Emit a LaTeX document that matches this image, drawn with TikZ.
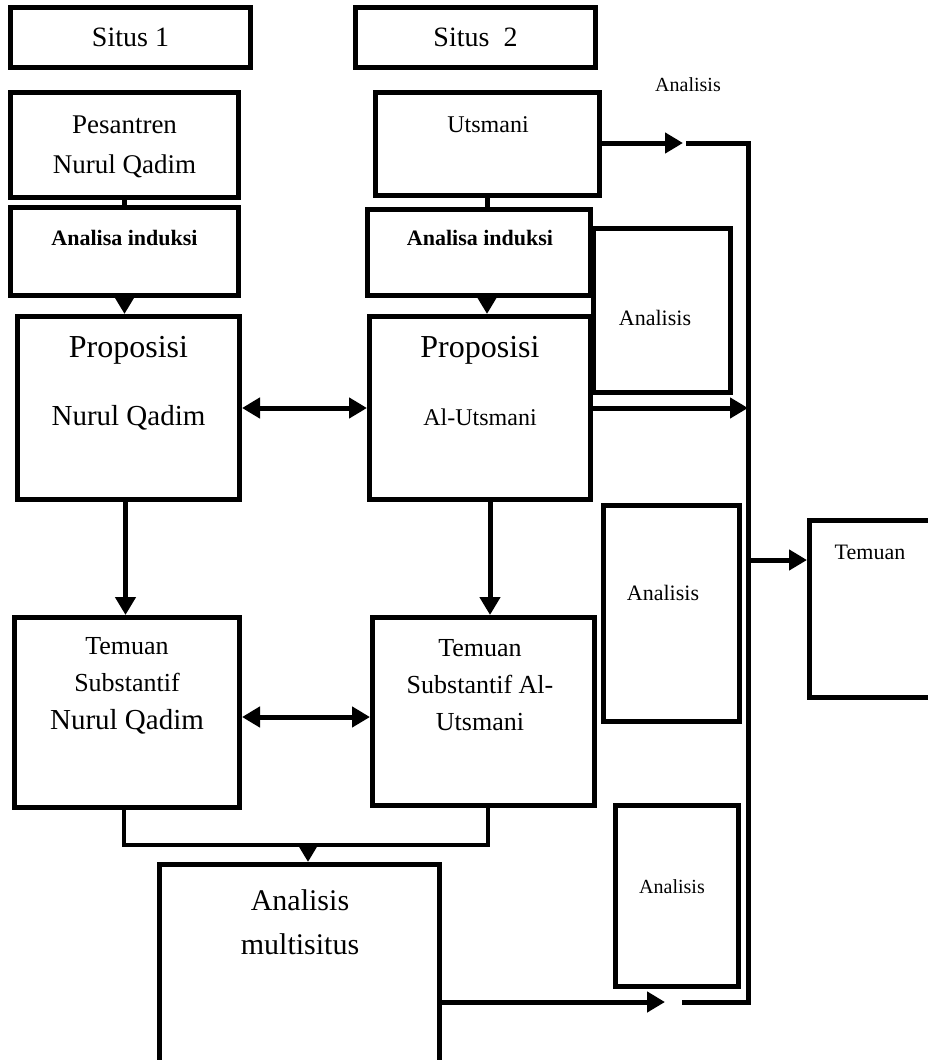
\documentclass[tikz,border=0pt]{standalone}
\usepackage{fontspec}
\setmainfont{Liberation Serif}
\usetikzlibrary{arrows.meta}
\begin{document}
\begin{tikzpicture}[x=1pt,y=-1pt,
  box/.style={draw=black, line width=5pt, inner sep=0pt, fill=white},
  conn/.style={draw=black, line width=5pt},
  brk/.style={draw=black, line width=4pt},
  arr/.style={conn, -{Triangle[length=18pt,width=20pt]}},
  darr/.style={conn, {Triangle[length=18pt,width=20pt]}-{Triangle[length=18pt,width=20pt]}},
  lbl/.style={inner sep=0pt, text=black, align=center}]
\useasboundingbox (0,0) rectangle (928,1060);
\clip (0,0) rectangle (928,1060);

% boxes
\node[box, minimum width=240pt, minimum height=60pt] (s1) at (130.5,37.5) {};
\node[box, minimum width=240pt, minimum height=60pt] (s2) at (475.5,37.5) {};
\node[box, minimum width=228pt, minimum height=105pt] (pes) at (124.5,145) {};
\node[box, minimum width=224pt, minimum height=103pt] (uts) at (487.5,144) {};
\node[box, minimum width=228pt, minimum height=88pt] (ind1) at (124.5,251.5) {};
\node[box, minimum width=223pt, minimum height=86pt] (ind2) at (479,252.5) {};
\node[box, minimum width=137pt, minimum height=164pt] (an1) at (662,310.5) {};
\node[box, minimum width=222pt, minimum height=183pt] (prop1) at (128.5,408) {};
\node[box, minimum width=221pt, minimum height=183pt] (prop2) at (480,408) {};
\node[box, minimum width=128pt, minimum height=177pt] (tem) at (873.5,609) {};
\node[box, minimum width=136pt, minimum height=216pt] (an2) at (671.5,613.5) {};
\node[box, minimum width=225pt, minimum height=190pt] (tem1) at (127,712.5) {};
\node[box, minimum width=222pt, minimum height=188pt] (tem2) at (483.5,711.5) {};
\node[box, minimum width=123pt, minimum height=181pt] (an3) at (677,896) {};
\node[box, minimum width=280pt, minimum height=203pt] (multi) at (299.5,966) {};

% texts
\node[lbl, font=\fontsize{28}{32}\selectfont] (t1) at (s1) {Situs 1};
\node[lbl, font=\fontsize{28}{32}\selectfont] (t2) at (s2) {Situs\ \ 2};
\node[lbl, font=\fontsize{27}{40}\selectfont] (t3) at (124.5,147) {Pesantren\\Nurul Qadim};
\node[lbl, font=\fontsize{24}{28}\selectfont] (t4) at (488,125) {Utsmani};
\node[lbl, font=\fontsize{22}{26}\selectfont\bfseries] (t5) at (124.5,238) {Analisa induksi};
\node[lbl, font=\fontsize{22}{26}\selectfont\bfseries] (t6) at (480,238) {Analisa induksi};
\node[lbl, font=\fontsize{32}{36}\selectfont] (t7) at (128.5,350) {Proposisi};
\node[lbl, font=\fontsize{29}{32}\selectfont] (t8) at (128.5,418) {Nurul Qadim};
\node[lbl, font=\fontsize{32}{36}\selectfont] (t9) at (480,350) {Proposisi};
\node[lbl, font=\fontsize{24}{28}\selectfont] (t10) at (480,417) {Al-Utsmani};
\node[lbl, font=\fontsize{22}{26}\selectfont] (t11) at (655,318) {Analisis};
\node[lbl, font=\fontsize{20}{24}\selectfont] (t12) at (688,85) {Analisis};
\node[lbl, font=\fontsize{22}{26}\selectfont] (t13) at (870,552) {Temuan};
\node[lbl, font=\fontsize{26}{37}\selectfont] (t14) at (127,665) {Temuan\\Substantif};
\node[lbl, font=\fontsize{29}{32}\selectfont] (t14b) at (127,722) {Nurul Qadim};
\node[lbl, font=\fontsize{26}{37}\selectfont] (t15) at (480,685) {Temuan\\Substantif Al-\\Utsmani};
\node[lbl, font=\fontsize{22}{26}\selectfont] (t16) at (663,593) {Analisis};
\node[lbl, font=\fontsize{30}{44}\selectfont] (t17) at (300,922) {Analisis\\multisitus};
\node[lbl, font=\fontsize{20}{24}\selectfont] (t18) at (672,887) {Analisis};

% coordinates of the right-hand collector line
\coordinate (vt) at (748,143);
\coordinate (vb) at (748,1002);
\coordinate (ta) at (683,143);
\coordinate (tb) at (686,143);
\coordinate (ba) at (665,1002);
\coordinate (bb) at (682,1002);
\coordinate (bl) at (124,845);
\coordinate (br) at (488,845);
\coordinate (bm) at (308,845);

% connectors
\draw[conn] (pes.south) -- (ind1.north);
\draw[conn] (uts.south) -- (uts.south |- ind2.north);
\draw[arr] (ind1.south) -- (ind1.south |- prop1.north);
\draw[arr] ([xshift=8pt]ind2.south) -- ([xshift=8pt]ind2.south |- prop2.north);
\draw[darr] (prop1.east) -- (prop2.west);
\draw[arr] (prop2.east) -- (prop2.east -| vt);
\draw[arr] (uts.east |- ta) -- (ta);
\draw[conn] (tb) -- (vt) -- (vb) -- (bb);
\draw[arr] (vt |- 0,560) -- (tem.west |- 0,560);
\draw[arr] ([xshift=-3pt]prop1.south) -- ([xshift=-3pt]prop1.south |- tem1.north);
\draw[arr] ([xshift=10pt]prop2.south) -- ([xshift=10pt]prop2.south |- tem2.north);
\draw[darr] (tem1.east |- 0,717) -- (tem2.west |- 0,717);
\draw[brk] (tem1.south -| bl) -- (bl) -- (br) -- (tem2.south -| br);
\draw[arr] (bm) -- (multi.north -| bm);
\draw[arr] (multi.east |- ba) -- (ba);
\end{tikzpicture}
\end{document}
